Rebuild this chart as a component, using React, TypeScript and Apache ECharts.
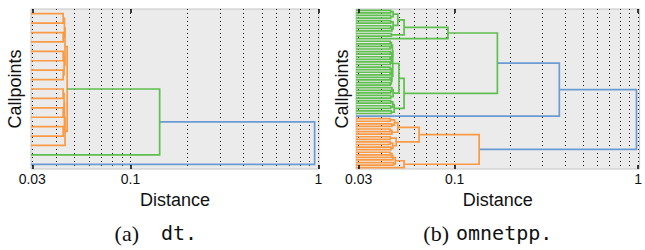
import React, { useEffect, useRef } from 'react';
import * as echarts from 'echarts';

// ---------- data ----------
const TICK_VALUES = [0.03, 0.1, 1];
const TICK_LABELS = ['0.03', '0.1', '1'];
const GRID_VALUES = [0.03, 0.04, 0.05, 0.06, 0.07, 0.08, 0.09, 0.1, 0.2, 0.3, 0.4, 0.5, 0.6, 0.7, 0.8, 0.9, 1];
const PANEL_LETTERS = ['(a)', '(b)'];
const PANEL_NAMES = ['dt.', 'omnetpp.'];
const X_LIMITS = [[0.02953, 1.0086], [0.029, 1.019]];
const LEAF_COUNTS = [17, 62];

// Dendrogram trees: [left, right, distance, colourKey?]; numbers are leaf indices (top to bottom)
const DT_TREE = [
  [
    [
      [[[0, 1, 0.0438], [2, 3, 0.0438], 0.0445], [[4, 5, 0.0438], [6, 7, 0.0438], 0.0443], 0.0448],
      [[[[8, 9, 0.0438], [10, 11, 0.0438], 0.0443], [12, 13, 0.0438], 0.0445], 14, 0.0448],
      0.046, 'C1',
    ],
    15, 0.143, 'C2',
  ],
  16, 0.956, 'C0',
];

const OMN_GREEN_TOP = [
  [
    [
      [[0, 1, 0.0448], [2, 3, 0.0448], 0.0462],
      [[4, 5, 0.0448], [[6, 7, 0.0448], 8, 0.0455], 0.0462],
      0.049,
    ],
    [9, 10, 0.0452],
    0.053,
  ],
  11, 0.092,
];
const OMN_GREEN_BOTTOM = [
  [
    [
      [[[12, 13, 0.0445], [14, 15, 0.0445], 0.0452], [[16, 17, 0.0445], [[18, 19, 0.0445], [20, 21, 0.0445], 0.0452], 0.0455], 0.0458],
      [[[22, 23, 0.0445], [24, 25, 0.0445], 0.0452], [[26, 27, 0.0445], [28, 29, 0.0445], 0.0452], 0.0455],
      0.046,
    ],
    [[30, [31, 32, 0.0448], 0.0455], [33, 34, 0.0448], 0.0462],
    0.0497,
  ],
  [[[35, 36, 0.0448], [37, 38, 0.0448], 0.046], [39, 40, 0.0452], 0.0468],
  0.053,
];
const OMN_ORANGE = [
  [
    [[[42, 43, 0.0445], [44, 45, 0.0455], 0.047], [[46, 47, 0.0445], 48, 0.0455], 0.049],
    [[49, 50, 0.0445], [[51, 52, 0.0445], [53, 54, 0.045], 0.046], 0.048],
    0.064,
  ],
  [[[[[55, 56, 0.0445], 57, 0.0455], 58, 0.046], [59, 60, 0.0465], 0.0475], 61, 0.053],
  0.136, 'C1',
];
const OMNETPP_TREE = [
  [[OMN_GREEN_TOP, OMN_GREEN_BOTTOM, 0.171, 'C2'], 41, 0.372],
  OMN_ORANGE,
  0.98, 'C0',
];
const TREES = [DT_TREE, OMNETPP_TREE];

const COLORS: Record<string, string> = { C0: '#6a9bd3', C1: '#fb9a45', C2: '#5fbf4f' };

// ---------- helpers ----------
const lg = (v: number) => Math.log10(v);

function layoutTree(tree: any, leafX: number) {
  const segs: Record<string, number[][][]> = { C0: [], C1: [], C2: [] };
  const walk = (node: any, col: string): { x: number; y: number } => {
    if (typeof node === 'number') return { x: leafX, y: node + 0.5 };
    const c = node[3] || col;
    const a = walk(node[0], c);
    const b = walk(node[1], c);
    const h = lg(node[2]);
    segs[c].push([[a.x, a.y], [h, a.y], [h, b.y], [b.x, b.y]]);
    return { x: h, y: (a.y + b.y) / 2 };
  };
  walk(tree, 'C0');
  return segs;
}

const labelFor = (v: number) => {
  for (let i = 0; i < TICK_VALUES.length; i++) {
    if (Math.abs(lg(TICK_VALUES[i]) - v) < 1e-6) return TICK_LABELS[i];
  }
  return '';
};

export default function App() {
  const ref = useRef<HTMLDivElement>(null);
  useEffect(() => {
    if (!ref.current) return;
    const chart = echarts.init(ref.current, undefined, { renderer: 'svg' });
    const GRIDS = [
      { left: 31, top: 9, width: 288, height: 160 },
      { left: 356, top: 9, width: 284, height: 160 },
    ];
    const NAME_GAPS = [7, 5];
    const CAPTION_SERIF_RIGHT = [139, 449];
    const CAPTION_MONO_LEFT = [161, 456];
    const TICK_PX = 4;
    const font = 'Liberation Sans';

    const grid: any[] = [];
    const xAxis: any[] = [];
    const yAxis: any[] = [];
    const series: any[] = [];
    const graphic: any[] = [];

    GRIDS.forEach((g, p) => {
      const N = LEAF_COUNTS[p];
      const xmin = lg(X_LIMITS[p][0]);
      const xmax = lg(X_LIMITS[p][1]);
      grid.push({ ...g, show: true, backgroundColor: '#ebebeb', borderColor: '#c6c6c6', borderWidth: 1 });
      xAxis.push({
        gridIndex: p, type: 'value', position: 'bottom', min: xmin, max: xmax,
        axisLine: { show: false }, splitLine: { show: false }, axisTick: { show: false },
        axisLabel: { show: true, customValues: TICK_VALUES.map(lg), formatter: labelFor, fontSize: 14, color: '#111', margin: 3, fontFamily: font },
        name: 'Distance', nameLocation: 'middle', nameGap: 21,
        nameTextStyle: { fontSize: 18, color: '#111', fontFamily: font },
      });
      yAxis.push({
        gridIndex: p, type: 'value', min: 0, max: N, inverse: true,
        axisLine: { show: false }, axisTick: { show: false }, axisLabel: { show: false }, splitLine: { show: false },
        name: 'Callpoints', nameLocation: 'middle', nameGap: NAME_GAPS[p],
        nameTextStyle: { fontSize: 18, color: '#111', fontFamily: font },
      });
      // dotted grid lines
      series.push({
        type: 'lines', coordinateSystem: 'cartesian2d', xAxisIndex: p, yAxisIndex: p,
        polyline: false, silent: true, z: 1,
        data: GRID_VALUES.map((v) => ({ coords: [[lg(v), 0], [lg(v), N]] })),
        lineStyle: { color: '#111', width: 1, type: [1, 3], opacity: 1 },
      });
      // inward major ticks at top and bottom
      const k = (N * TICK_PX) / g.height;
      const tickSegs: any[] = [];
      TICK_VALUES.forEach((v) => {
        tickSegs.push({ coords: [[lg(v), 0], [lg(v), k]] });
        tickSegs.push({ coords: [[lg(v), N - k], [lg(v), N]] });
      });
      series.push({
        type: 'lines', coordinateSystem: 'cartesian2d', xAxisIndex: p, yAxisIndex: p,
        polyline: false, silent: true, z: 4, data: tickSegs,
        lineStyle: { color: '#111', width: 1.6, opacity: 1 },
      });
      const segs = layoutTree(TREES[p], xmin);
      Object.keys(segs).forEach((key) => {
        series.push({
          type: 'lines', coordinateSystem: 'cartesian2d', xAxisIndex: p, yAxisIndex: p,
          polyline: true, silent: true, z: 3,
          data: segs[key].map((c) => ({ coords: c })),
          lineStyle: { color: COLORS[key], width: 1.7, opacity: 1 },
        });
      });
      graphic.push({
        type: 'text', x: CAPTION_SERIF_RIGHT[p], y: 233,
        style: { text: PANEL_LETTERS[p], align: 'right', verticalAlign: 'middle', fontFamily: 'Liberation Serif', fontSize: 22, fill: '#111' },
      });
      graphic.push({
        type: 'text', x: CAPTION_MONO_LEFT[p], y: 233,
        style: { text: PANEL_NAMES[p], align: 'left', verticalAlign: 'middle', fontFamily: 'DejaVu Sans Mono', fontSize: 20, fill: '#111' },
      });
    });

    chart.setOption({ animation: false, backgroundColor: '#fff', grid, xAxis, yAxis, series, graphic });
    return () => chart.dispose();
  }, []);
  return <div ref={ref} style={{ position: 'fixed', left: 0, top: 0, width: 645, height: 250 }} />;
}
